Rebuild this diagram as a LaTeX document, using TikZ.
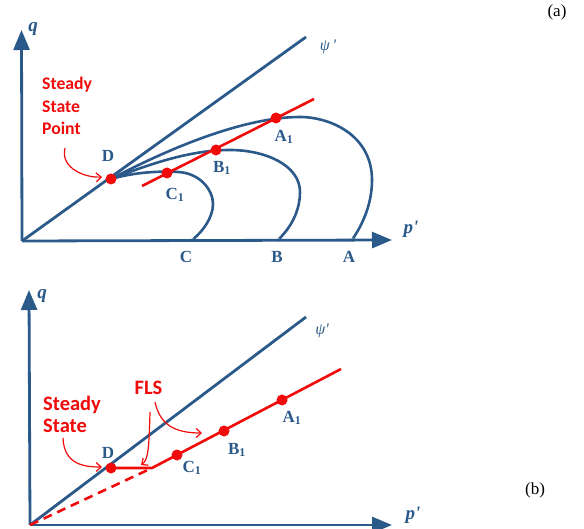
\documentclass[tikz,border=0pt]{standalone}
\usepackage{fontspec}
\setmainfont{Liberation Serif}
\newfontfamily\notefont{Carlito}
\usepackage{xcolor}
\usetikzlibrary{arrows.meta}
\definecolor{axblue}{RGB}{43,90,138}
\definecolor{hred}{RGB}{240,10,10}

\begin{document}
\begin{tikzpicture}[x=1pt,y=-1pt,
  ax/.style={line width=2.8pt,axblue,-{Triangle[length=20pt,width=16pt]}},
  blu/.style={line width=2.8pt,axblue},
  rline/.style={line width=2.6pt,hred},
  dot/.style={circle,fill=hred,inner sep=0pt,minimum size=11pt},
  tick/.style={circle,fill=axblue,inner sep=0pt,minimum size=3.5pt},
  lbl/.style={text=axblue,inner sep=0pt,font=\fontsize{17}{17}\selectfont\bfseries},
  axlbl/.style={text=axblue,inner sep=0pt,font=\fontsize{19}{19}\selectfont\bfseries\itshape},
  psilbl/.style={text=axblue,inner sep=0pt,font=\fontsize{16}{16}\selectfont\itshape},
  note/.style={text=hred,align=left,inner sep=0pt,anchor=north west},
  hand/.style={hred,line width=1.2pt,-{Straight Barb[length=5pt,width=9pt]}}]
  \useasboundingbox (0,0) rectangle (584,529);

  % (a) axes
  \coordinate (Oa) at (22,241);
  \coordinate (qa) at (21.5,30);
  \coordinate (pa) at (392,240);
  \coordinate (psia) at (306,37);
  \draw[ax] (Oa) -- (qa);
  \draw[ax] (Oa) -- (pa);
  \draw[blu] (Oa) -- (psia);
  \node[axlbl] (qla) at (33,29) {q};
  \node[axlbl] (pla) at (411,229) {p\textquotesingle};
  \node[psilbl] (psila) at (328,47) {ψ\,\textquotesingle};
  \node[font=\fontsize{17}{17}\selectfont] (tga) at (557,12) {(a)};

  % (a) stress paths
  \coordinate (Da) at (111,179);
  \node[tick] (Ca) at (192,240) {};
  \node[tick] (Ba) at (278,240) {};
  \node[tick] (Aa) at (352,240) {};
  \draw[blu,line width=2.6pt] (Da) .. controls (135,172) and (160,171) .. (178,172)
    .. controls (200,173) and (213,190) .. (213,204)
    .. controls (213,218) and (202,232) .. (Ca);
  \draw[blu,line width=2.6pt] (Da) .. controls (150,164) and (190,150) .. (230,150)
    .. controls (265,150) and (300,165) .. (300,192)
    .. controls (300,212) and (290,228) .. (Ba);
  \draw[blu,line width=2.6pt] (Da) .. controls (160,153) and (240,117) .. (300,117)
    .. controls (330,117) and (372,135) .. (372,180)
    .. controls (372,205) and (362,225) .. (Aa);

  % (a) red line
  \coordinate (ra1) at (142,186);
  \coordinate (ra2) at (314,99);
  \draw[rline] (ra1) -- (ra2);
  \node[dot] (dDa) at (Da) {};
  \node[dot] (dCa) at (167,173) {};
  \node[dot] (dBa) at (216,150) {};
  \node[dot] (dAa) at (276,118) {};

  \node[lbl] (lDa) at (108,156) {D};
  \node[lbl] (lCa1) at (175,195) {C\textsubscript{1}};
  \node[lbl] (lBa1) at (222,168) {B\textsubscript{1}};
  \node[lbl] (lAa1) at (284,137) {A\textsubscript{1}};
  \node[lbl] (lCa) at (186,257) {C};
  \node[lbl] (lBa) at (277,257) {B};
  \node[lbl] (lAa) at (349,257) {A};

  \node[note,font=\notefont\fontsize{17.7}{22.5}\selectfont\bfseries] (ssa) at (42,77)
    {Steady\\State\\Point};
  \coordinate (ha1) at (65,148);
  \coordinate (ha2) at (102,177);
  \draw[hand] (ha1) .. controls (60,168) and (85,178) .. (ha2);

  % (b) axes
  \coordinate (Ob) at (30,525);
  \coordinate (qb) at (29,290);
  \coordinate (pb) at (392,525);
  \coordinate (psib) at (306,317);
  \draw[ax] (Ob) -- (qb);
  \draw[ax] (Ob) -- (pb);
  \draw[blu] (Ob) -- (psib);
  \node[axlbl] (qlb) at (42,296) {q};
  \node[axlbl] (plb) at (413,515) {p\textquotesingle};
  \node[psilbl] (psilb) at (322,331) {ψ\textquotesingle};
  \node[font=\fontsize{17}{17}\selectfont] (tgb) at (535,490) {(b)};

  % (b) FLS
  \coordinate (Db) at (111,468);
  \coordinate (kb) at (152,468);
  \coordinate (rb2) at (341,369);
  \draw[rline,dashed,dash pattern=on 9pt off 6pt] (Ob) -- (kb);
  \draw[rline] (Db) -- (kb) -- (rb2);
  \node[dot] (dDb) at (Db) {};
  \node[dot] (dCb) at (177,455) {};
  \node[dot] (dBb) at (224,431) {};
  \node[dot] (dAb) at (282,400) {};

  \node[lbl] (lDb) at (108,453) {D};
  \node[lbl] (lCb1) at (192,468) {C\textsubscript{1}};
  \node[lbl] (lBb1) at (237,450) {B\textsubscript{1}};
  \node[lbl] (lAb1) at (292,418) {A\textsubscript{1}};

  \node[note,font=\notefont\fontsize{20.5}{21.5}\selectfont\bfseries] (ssb) at (43,396)
    {Steady\\State};
  \node[text=hred,inner sep=0pt,anchor=base,font=\notefont\fontsize{20.5}{21.5}\selectfont\bfseries]
    (fls) at (148.5,395) {FLS};
  \coordinate (hb1) at (63,438);
  \coordinate (hb2) at (102,467);
  \draw[hand] (hb1) .. controls (64,465) and (85,467) .. (hb2);
  \coordinate (hf1) at (150,412);
  \coordinate (hf2) at (141,465);
  \draw[hand] (hf1) .. controls (149,450) and (148,460) .. (hf2);
  \coordinate (hg1) at (155,402);
  \coordinate (hg2) at (202,433);
  \draw[hand] (hg1) .. controls (160,425) and (175,433) .. (hg2);
\end{tikzpicture}
\end{document}
